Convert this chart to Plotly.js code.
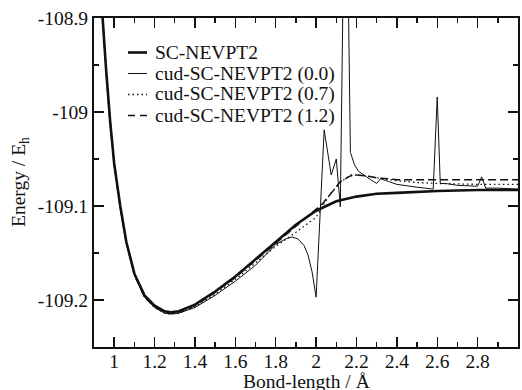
<!DOCTYPE html>
<html>
<head>
<meta charset="utf-8">
<script src="https://cdn.plot.ly/plotly-3.0.1.min.js"></script>
<style>html,body{margin:0;padding:0;background:#fff;}#chart{width:522px;height:390px;}</style>
</head>
<body>
<div id="chart"></div>
<script>
// ---- data ----
var bondSC = [0.93,0.94,0.96,0.98,1.00,1.03,1.06,1.10,1.15,1.20,1.25,1.28,1.32,1.40,1.50,1.60,1.70,1.80,1.90,2.00,2.10,2.20,2.30,2.40,2.50,2.60,2.80,3.00];
var energySC = [-108.86,-108.895,-108.955,-109.01,-109.055,-109.10,-109.138,-109.172,-109.195,-109.206,-109.212,-109.213,-109.212,-109.205,-109.191,-109.175,-109.157,-109.138,-109.120,-109.105,-109.095,-109.090,-109.087,-109.086,-109.085,-109.084,-109.083,-109.083];

var bondC00 = [0.93,0.94,0.96,0.98,1.00,1.03,1.06,1.10,1.15,1.20,1.25,1.28,1.32,1.40,1.50,1.60,1.70,1.75,1.80,1.85,1.88,1.91,1.94,1.96,1.98,2.00,2.04,2.075,2.10,2.12,2.146,2.17,2.19,2.21,2.24,2.27,2.30,2.32,2.36,2.40,2.50,2.58,2.60,2.615,2.64,2.70,2.80,2.82,2.84,2.90,3.00];
var energyC00 = [-108.86,-108.895,-108.956,-109.011,-109.056,-109.101,-109.139,-109.173,-109.197,-109.208,-109.214,-109.215,-109.214,-109.208,-109.195,-109.180,-109.163,-109.152,-109.141,-109.135,-109.133,-109.135,-109.142,-109.152,-109.170,-109.197,-109.019,-109.067,-109.050,-109.101,-108.66,-109.043,-109.056,-109.063,-109.068,-109.072,-109.076,-109.071,-109.074,-109.077,-109.080,-109.082,-108.984,-109.076,-109.076,-109.078,-109.079,-109.069,-109.081,-109.081,-109.082];

var bondC07 = [0.93,0.94,0.96,0.98,1.00,1.03,1.06,1.10,1.15,1.20,1.25,1.28,1.32,1.40,1.50,1.60,1.70,1.80,1.90,1.96,2.00,2.03,2.07,2.12,2.17,2.20,2.25,2.30,2.40,2.50,2.60,2.80,3.00];
var energyC07 = [-108.86,-108.895,-108.956,-109.011,-109.056,-109.101,-109.139,-109.173,-109.197,-109.208,-109.214,-109.215,-109.214,-109.207,-109.194,-109.178,-109.160,-109.143,-109.128,-109.118,-109.112,-109.101,-109.087,-109.075,-109.067,-109.067,-109.068,-109.070,-109.073,-109.075,-109.076,-109.077,-109.077];

var bondC12 = [0.93,0.94,0.96,0.98,1.00,1.03,1.06,1.10,1.15,1.20,1.25,1.28,1.32,1.40,1.50,1.60,1.70,1.80,1.90,2.00,2.03,2.08,2.12,2.17,2.20,2.25,2.30,2.40,2.60,2.80,3.00];
var energyC12 = [-108.86,-108.895,-108.956,-109.011,-109.056,-109.101,-109.139,-109.173,-109.197,-109.207,-109.213,-109.214,-109.213,-109.206,-109.192,-109.176,-109.158,-109.139,-109.121,-109.104,-109.098,-109.085,-109.074,-109.068,-109.067,-109.068,-109.070,-109.072,-109.072,-109.072,-109.072];

var seriesNames = ['SC-NEVPT2','cud-SC-NEVPT2 (0.0)','cud-SC-NEVPT2 (0.7)','cud-SC-NEVPT2 (1.2)'];

var xTickVals = [1,1.2,1.4,1.6,1.8,2,2.2,2.4,2.6,2.8,3];
var xTickText = ['1','1.2','1.4','1.6','1.8','2','2.2','2.4','2.6','2.8','3'];
var xMinorVals = [0.9,1.1,1.3,1.5,1.7,1.9,2.1,2.3,2.5,2.7,2.9];
var yTickVals = [-109.2,-109.1,-109,-108.9];
var yTickText = ['-109.2','-109.1','-109','-108.9'];
var yMinorVals = [-109.25,-109.15,-109.05,-108.95];
var xTitle = 'Bond-length / Å';
var yTitle = 'Energy / E<sub>h</sub>';

// ---- styles ----
var FONT = 'Liberation Serif, Times New Roman, serif';
var INK = '#111';
var FS = 19.5;
var styles = [
  {width: 2.6, dash: 'solid'},
  {width: 1.0, dash: 'solid'},
  {width: 1.3, dash: '1.5px,3px'},
  {width: 1.5, dash: '8px,4px'}
];

var xs = [bondSC, bondC00, bondC07, bondC12];
var ys = [energySC, energyC00, energyC07, energyC12];
var order = [1, 2, 3, 0];
var traces = order.map(function (i) {
  return {
    x: xs[i], y: ys[i], name: seriesNames[i], type: 'scatter', mode: 'lines',
    line: {color: INK, width: styles[i].width, dash: styles[i].dash},
    showlegend: false, hoverinfo: 'skip'
  };
});

// manual legend and axis titles (pixel layout of the reference converted to paper coords)
var plotL = 94, plotR = 518, plotT = 18, plotB = 347;
function px(p) { return (p - plotL) / (plotR - plotL); }
function py(p) { return (plotB - p) / (plotB - plotT); }
var rowY = [52.5, 73.5, 94.5, 115.5];
var shapes = [], annotations = [];
for (var i = 0; i < 4; i++) {
  shapes.push({type: 'line', xref: 'paper', yref: 'paper',
    x0: px(128), x1: px(147), y0: py(rowY[i]), y1: py(rowY[i]),
    line: {color: INK, width: styles[i].width, dash: i === 3 ? '7px,5px' : styles[i].dash}});
  annotations.push({xref: 'paper', yref: 'paper', x: px(153), y: py(rowY[i]),
    xanchor: 'left', yanchor: 'middle', showarrow: false, text: seriesNames[i],
    font: {family: FONT, size: FS, color: INK}});
}
annotations.push({xref: 'paper', yref: 'paper', x: 0.5, y: py(381), xanchor: 'center', yanchor: 'middle',
  showarrow: false, text: xTitle, font: {family: FONT, size: FS, color: INK}});
annotations.push({xref: 'paper', yref: 'paper', x: px(20), y: py(182), xanchor: 'center', yanchor: 'middle',
  textangle: -90, showarrow: false, text: yTitle, font: {family: FONT, size: FS, color: INK}});

var axisCommon = {
  showline: true, linewidth: 2, linecolor: INK, mirror: 'allticks',
  ticks: 'inside', ticklen: 10, tickwidth: 1.4, tickcolor: INK,
  showgrid: false, zeroline: false, tickmode: 'array', automargin: false,
  tickfont: {family: FONT, size: FS, color: INK}
};

var layout = {
  width: 522, height: 390,
  margin: {l: plotL, r: 522 - plotR, t: plotT, b: 390 - plotB},
  paper_bgcolor: '#fff', plot_bgcolor: '#fff',
  showlegend: false,
  font: {family: FONT, size: FS, color: INK},
  xaxis: Object.assign({}, axisCommon, {
    range: [0.9, 3], tickvals: xTickVals, ticktext: xTickText, ticklabelstandoff: -4,
    minor: {tickmode: 'array', tickvals: xMinorVals, ticks: 'inside', ticklen: 5, tickwidth: 1.4, tickcolor: INK, showgrid: false}
  }),
  yaxis: Object.assign({}, axisCommon, {
    range: [-109.25, -108.9], tickvals: yTickVals, ticktext: yTickText,
    minor: {tickmode: 'array', tickvals: yMinorVals, ticks: 'inside', ticklen: 5, tickwidth: 1.4, tickcolor: INK, showgrid: false}
  }),
  shapes: shapes,
  annotations: annotations
};

Plotly.newPlot('chart', traces, layout, {staticPlot: true, displayModeBar: false});
</script>
</body>
</html>
